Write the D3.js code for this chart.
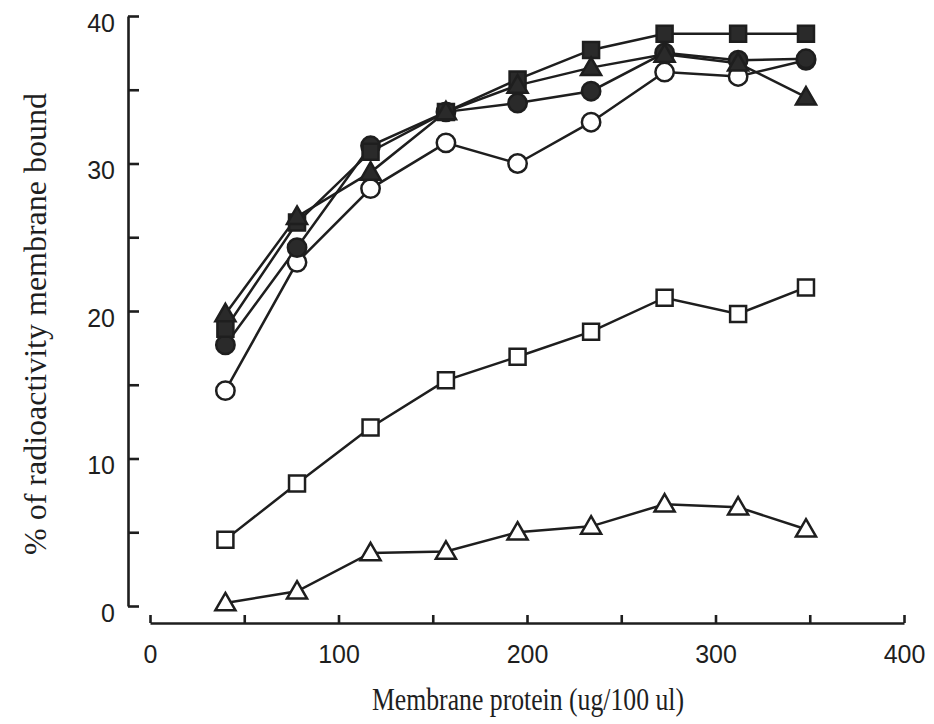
<!DOCTYPE html>
<html>
<head>
<meta charset="utf-8">
<script src="https://cdn.jsdelivr.net/npm/d3@7"></script>
<style>
  html, body { margin: 0; padding: 0; background: #fff; }
  svg { display: block; }
</style>
</head>
<body>
<svg id="chart" width="934" height="724"></svg>
<script>
// ---- data ----
const proteinX = [40, 78, 117, 157, 195, 234, 273, 312, 348];
const filledTriangle = [19.8, 26.4, 29.4, 33.5, 35.3, 36.5, 37.4, 36.8, 34.5];
const filledSquare   = [18.8, 26.0, 30.8, 33.5, 35.7, 37.7, 38.8, 38.8, 38.8];
const filledCircle   = [17.7, 24.3, 31.2, 33.5, 34.1, 34.9, 37.5, 37.0, 37.1];
const openCircle     = [14.6, 23.3, 28.3, 31.4, 30.0, 32.8, 36.2, 35.9, 37.0];
const openSquare     = [4.5, 8.3, 12.1, 15.3, 16.9, 18.6, 20.9, 19.8, 21.6];
const openTriangle   = [0.2, 1.0, 3.6, 3.7, 5.0, 5.4, 6.9, 6.7, 5.2];
const xTicks = [0, 50, 100, 150, 200, 250, 300, 350, 400];
const yTicks = [0, 5, 10, 15, 20, 25, 30, 35, 40];
const xTitle = "Membrane protein (ug/100 ul)";
const yTitle = "% of radioactivity membrane bound";

const series = [
  { values: openTriangle, shape: "triangle", filled: false },
  { values: openSquare, shape: "square", filled: false },
  { values: openCircle, shape: "circle", filled: false },
  { values: filledCircle, shape: "circle", filled: true },
  { values: filledSquare, shape: "square", filled: true },
  { values: filledTriangle, shape: "triangle", filled: true }
];

const ink = "#1e1e1e";
const svg = d3.select("#chart");
const x = d3.scaleLinear().domain([0, 400]).range([150, 904]);
const y = d3.scaleLinear().domain([0, 40]).range([606, 16]);

// y axis
const yAxis = svg.append("g").attr("transform", "translate(128,0)")
  .call(d3.axisLeft(y).tickValues(yTicks).tickSizeInner(-11).tickSizeOuter(0).tickPadding(13)
    .tickFormat(d => d % 10 === 0 ? d : ""));
yAxis.selectAll("path, line").attr("stroke", ink).attr("stroke-width", 2.6);
yAxis.selectAll("text").attr("font-family", "Liberation Sans, Arial, sans-serif")
  .attr("font-size", 25).attr("fill", ink).attr("dy", "0.6em");

// x axis
const xAxis = svg.append("g").attr("transform", "translate(0,623)")
  .call(d3.axisBottom(x).tickValues(xTicks).tickSizeInner(-8).tickSizeOuter(0).tickPadding(22)
    .tickFormat(d => d % 100 === 0 ? d : ""));
xAxis.selectAll("path, line").attr("stroke", ink).attr("stroke-width", 2.6);
xAxis.selectAll("text").attr("font-family", "Liberation Sans, Arial, sans-serif")
  .attr("font-size", 25).attr("fill", ink);

// titles
svg.append("text").attr("x", 528).attr("y", 710).attr("text-anchor", "middle")
  .attr("font-family", "Liberation Serif, Times New Roman, serif").attr("font-size", 31)
  .attr("fill", ink).attr("textLength", 312).attr("lengthAdjust", "spacingAndGlyphs")
  .text(xTitle);
svg.append("text").attr("transform", "translate(46,324) rotate(-90)").attr("text-anchor", "middle")
  .attr("font-family", "Liberation Serif, Times New Roman, serif").attr("font-size", 32)
  .attr("fill", ink).attr("textLength", 462).attr("lengthAdjust", "spacingAndGlyphs")
  .text(yTitle);

// series
const line = d3.line().x((d, i) => x(proteinX[i])).y(d => y(d));
const sym = {
  circle: d3.symbol().type(d3.symbolCircle).size(Math.PI * 9.2 * 9.2),
  square: d3.symbol().type(d3.symbolSquare).size(16 * 16),
  triangle: d3.symbol().type(d3.symbolTriangle).size(175)
};
series.forEach(s => {
  svg.append("path").datum(s.values).attr("d", line)
    .attr("fill", "none").attr("stroke", ink).attr("stroke-width", 2.5);
});
series.forEach(s => {
  svg.append("g").selectAll("path").data(s.values).join("path")
    .attr("d", sym[s.shape])
    .attr("transform", (d, i) => `translate(${x(proteinX[i])},${y(d) + (s.shape === "triangle" ? 1.5 : 0)})`)
    .attr("fill", s.filled ? "#2a2a2a" : "#fff")
    .attr("stroke", ink).attr("stroke-width", 2.5);
});
</script>
</body>
</html>
